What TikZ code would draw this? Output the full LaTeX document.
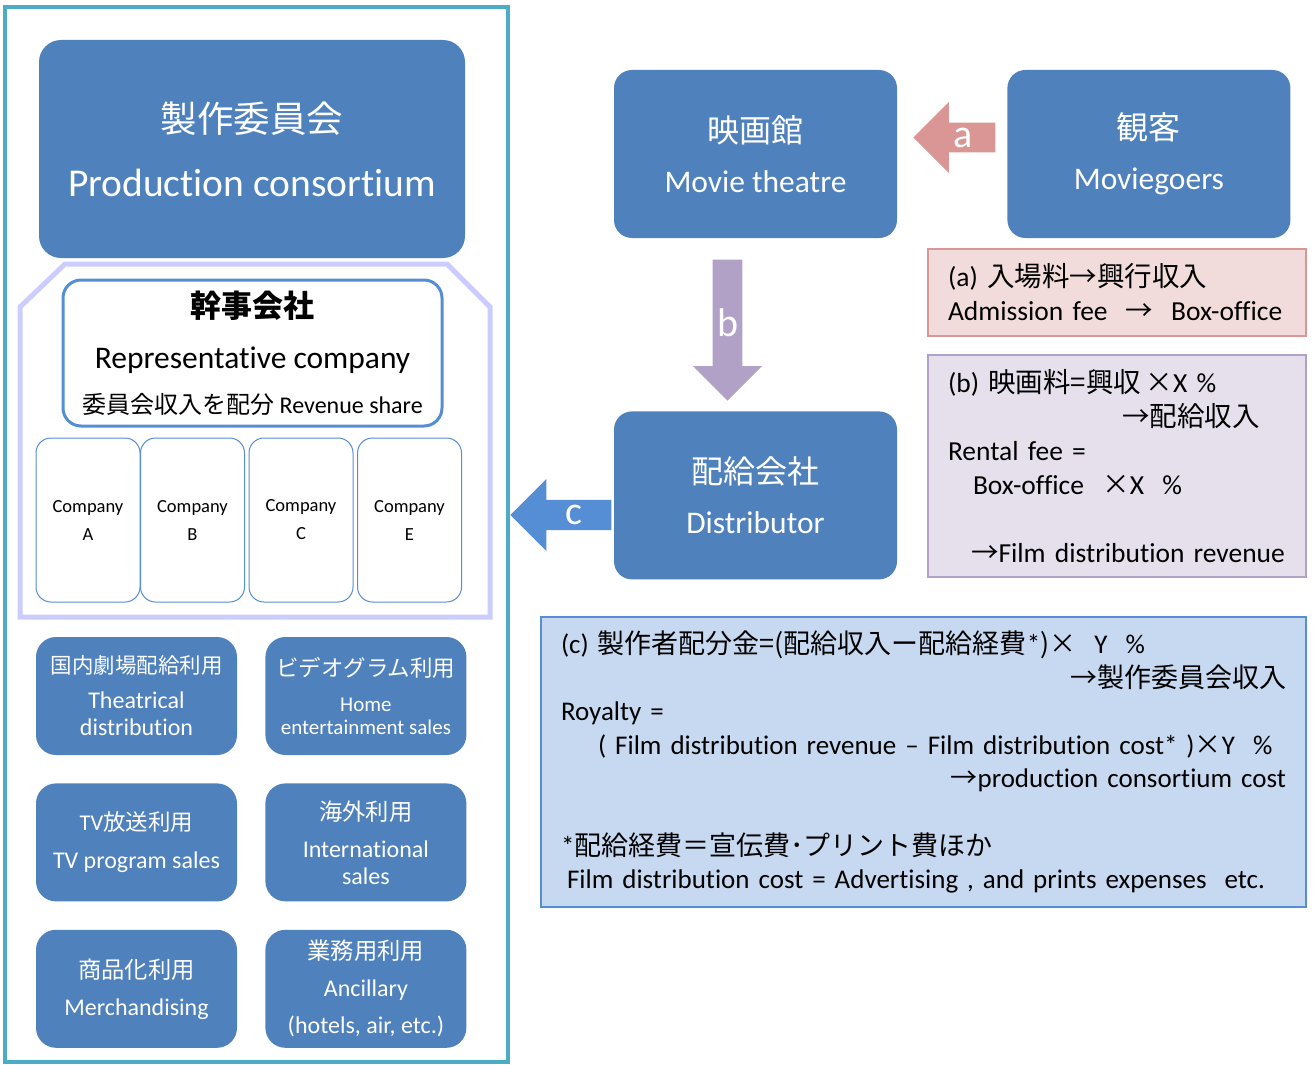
\documentclass[tikz,border=0pt]{standalone}
\usepackage{fontspec}
\setmainfont{Carlito}[Ligatures=NoCommon]
\newfontfamily\jpfont{Noto Sans CJK JP}
\usetikzlibrary{positioning, shapes.arrows, calc}
\definecolor{BoxBlue}{RGB}{79,129,189}
\definecolor{FrameTeal}{RGB}{75,172,198}
\definecolor{Lavender}{RGB}{204,204,255}
\definecolor{LineBlue}{RGB}{85,142,213}
\definecolor{ArrowPink}{RGB}{217,150,148}
\definecolor{ArrowPurple}{RGB}{178,161,199}
\definecolor{NotePink}{RGB}{242,220,219}
\definecolor{NotePurple}{RGB}{229,224,236}
\definecolor{NoteBlue}{RGB}{198,217,241}
\newcommand{\fsz}[2]{\fontsize{#1}{#2}\selectfont}
\newcommand{\jtimes}{{\jpfont ×}}

\begin{document}
\begin{tikzpicture}[x=1pt, y=-1pt,
  bluebox/.style={fill=BoxBlue, text=white, align=center, inner sep=0pt},
  bigbox/.style={bluebox, rounded corners=18pt, minimum width=283pt, minimum height=168pt, font=\fsz{31.5}{50}},
  usebox/.style={bluebox, rounded corners=20pt, minimum width=201pt, minimum height=118pt},
  compbox/.style={draw=LineBlue, line width=1pt, fill=white, rounded corners=15pt, minimum width=104pt, minimum height=164pt, align=center, inner sep=0pt, font=\fsz{18.5}{28}},
  blockarrow/.style={single arrow, single arrow head extend=14pt, inner sep=0pt, text=white, anchor=tip, font=\fsz{40}{40}},
  note/.style={line width=2pt, inner xsep=20pt, inner ysep=0pt, align=left, font=\fsz{27.5}{34}}]
\useasboundingbox (0,0) rectangle (1314,1065);

% consortium side
\draw[line width=4pt, FrameTeal] (5,7) rectangle (508,1062);
\draw[line width=5pt, Lavender] (65,264) -- (447,264) -- (490,307) -- (490,617) -- (20,617) -- (20,307) -- cycle;
\node[bluebox, rounded corners=22pt, minimum width=426pt, minimum height=218pt, font=\fsz{39.5}{64}] (cons) at (252,149)
  {{\jpfont\fsz{36.5}{36}製作委員会}\\Production consortium};
\node[draw=LineBlue, line width=3pt, fill=white, rounded corners=18pt, minimum width=379pt, minimum height=146pt, align=center, inner sep=0pt, font=\fsz{31.5}{51}] (rep) at (252.5,353)
  {{\jpfont\bfseries\fsz{31}{31}幹事会社}\\Representative company\\[-6pt]{\fsz{24}{24}{\jpfont 委員会収入を配分} Revenue share}};
\foreach \x/\l in {88/A,192.5/B,301/C,409.5/E}
  \node[compbox] (comp\l) at (\x,520) {Company\\\l};

% rights usage
\node[usebox, font=\fsz{24}{27}] (theat) at (136.5,696)
  {{\jpfont\fsz{21.5}{22}国内劇場配給利用}\\[8pt]Theatrical\\distribution};
\node[usebox, font=\fsz{21}{23}, right=28pt of theat] (home)
  {{\jpfont\fsz{22.5}{23}ビデオグラム利用}\\[12pt]Home\\entertainment sales};
\node[usebox, font=\fsz{24}{38}, below=28pt of theat] (tv)
  {{\fsz{22.5}{22}TV\jpfont 放送利用}\\TV program sales};
\node[usebox, font=\fsz{24}{27}, right=28pt of tv] (intl)
  {{\jpfont\fsz{23.3}{23}海外利用}\\[10pt]International\\sales};
\node[usebox, font=\fsz{24}{37}, below=28pt of tv] (merch)
  {{\jpfont\fsz{23.3}{23}商品化利用}\\Merchandising};
\node[usebox, font=\fsz{24}{37}, right=28pt of merch] (anc)
  {{\jpfont\fsz{23.3}{23}業務用利用}\\Ancillary\\(hotels, air, etc.)};

% money flow
\node[bigbox] (theatre) at (755.5,154) {{\jpfont\fsz{32}{32}映画館}\\Movie theatre};
\node[bigbox, right=110pt of theatre] (goers) {{\jpfont\fsz{32}{32}観客}\\Moviegoers};
\node[bigbox, below=173pt of theatre] (dist) {{\jpfont\fsz{32}{32}配給会社}\\Distributor};
\node[blockarrow, fill=ArrowPink, shape border rotate=180, minimum height=82pt, minimum width=71pt] (arrA) at (913,137.5) {\hspace*{3pt}a};
\node[blockarrow, fill=ArrowPurple, shape border rotate=270, minimum height=141pt, minimum width=69pt] (arrB) at (727.5,401) {b};
\node[blockarrow, fill=LineBlue, shape border rotate=180, minimum height=101pt, minimum width=72pt] (arrC) at (510,515) {\hspace*{12pt}c};

% notes
\node[note, fill=NotePink, draw=ArrowPink, minimum width=378pt, minimum height=87pt, text width=338pt] (noteA) at (1117,292.5)
  {(a) {\jpfont 入場料→興行収入}\\Admission fee\hspace{18pt}{\jpfont →}\hspace{18pt}Box-office};
\node[note, fill=NotePurple, draw=ArrowPurple, minimum width=378pt, minimum height=222pt, text width=338pt] (noteB) at (1117,466)
  {(b) {\jpfont 映画料=興収}\,\jtimes X \%\\
   \hspace*{174pt}{\jpfont →配給収入}\\
   Rental fee =\\
   \hspace*{25pt}Box-office\ \ \jtimes X\ \ \%\\
   ~\\
   \hspace*{23pt}{\jpfont →}Film distribution revenue};
\node[note, fill=NoteBlue, draw=LineBlue, minimum width=765pt, minimum height=290pt, text width=725pt, font=\fsz{27}{33.6}] (noteC) at (923.5,762)
  {(c) {\jpfont 製作者配分金=(配給収入ー配給経費}*{\jpfont )×}\hspace{18pt}Y\hspace{18pt}\%\\
   \hspace*{\fill}{\jpfont →製作委員会収入}\\
   Royalty =\\
   \hspace*{37pt}( Film distribution revenue – Film distribution cost* )\jtimes Y\hspace{18pt}\%\\
   \hspace*{\fill}{\jpfont →}production consortium cost\hspace*{13pt}\\
   ~\\
   {}*{\jpfont 配給経費＝宣伝費･プリント費ほか}\\
   \hspace*{6pt}Film distribution cost = Advertising , and prints expenses\ \ etc.};
\end{tikzpicture}
\end{document}
